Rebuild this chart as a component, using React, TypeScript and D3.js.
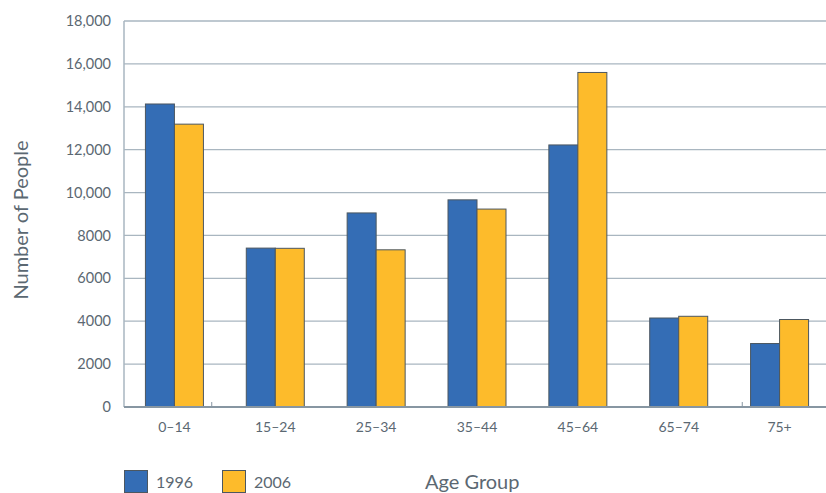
import React from "react";
import * as d3 from "d3";

const ageGroups = ["0–14", "15–24", "25–34", "35–44", "45–64", "65–74", "75+"];
const people1996 = [14130, 7410, 9050, 9660, 12220, 4150, 2960];
const people2006 = [13190, 7400, 7330, 9230, 15600, 4230, 4080];
const seriesNames = ["1996", "2006"];
const yTicks = [0, 2000, 4000, 6000, 8000, 10000, 12000, 14000, 16000, 18000];

const W = 826;
const H = 493;
const M = { left: 124, right: 0, top: 21, bottom: 86 };
const COLORS = ["#346db5", "#fdbb2b"];
const TEXT = "#5b6872";
const FONT = "Lato, 'Open Sans', sans-serif";

export default function App() {
  const x = d3.scaleBand<string>().domain(ageGroups).range([M.left, 830]).padding(0);
  const y = d3.scaleLinear().domain([0, 18000]).range([H - M.bottom, M.top]);
  const barW = 29;
  const fmt = (v: number) => (v >= 10000 ? d3.format(",")(v) : String(v));
  const step = x.step();
  const c0 = (x(ageGroups[0]) as number) + step / 2;
  const c6 = (x(ageGroups[6]) as number) + step / 2;
  const minorTicks = [c0 + 0.37 * step, c6 - 0.37 * step];

  return (
    <svg width={W} height={H} style={{ position: "absolute", left: 0, top: 0, background: "#fff" }}>
      {yTicks.map((t) => (
        <g key={t}>
          {t > 0 && (
            <line x1={M.left} x2={W} y1={y(t)} y2={y(t)} stroke="#a9b6c0" strokeWidth={1.3} />
          )}
          <text x={111} y={y(t)} dy="0.35em" textAnchor="end" fontSize={14.5} fill={TEXT} fontFamily={FONT}>
            {fmt(t)}
          </text>
        </g>
      ))}
      {ageGroups.map((g, i) => {
        const cx = (x(g) as number) + step / 2;
        const vals = [people1996[i], people2006[i]];
        return (
          <g key={g}>
            {vals.map((v, j) => (
              <rect
                key={j}
                x={cx - barW + j * barW}
                y={y(v)}
                width={barW}
                height={y(0) - y(v)}
                fill={COLORS[j]}
                stroke="#4c5760"
                strokeWidth={1}
              />
            ))}
            <text x={cx} y={432} textAnchor="middle" fontSize={14} fill={TEXT} fontFamily={FONT}>
              {g}
            </text>
          </g>
        );
      })}
      <line x1={M.left} x2={M.left} y1={M.top} y2={y(0)} stroke="#a9b6c0" strokeWidth={1.5} />
      <line x1={M.left} x2={W} y1={y(0)} y2={y(0)} stroke="#8796a2" strokeWidth={2} />
      {minorTicks.map((tx, i) => (
        <line key={i} x1={tx} x2={tx} y1={y(0)} y2={y(0) - 5} stroke="#8796a2" strokeWidth={1} />
      ))}
      <text
        transform={`translate(28, ${(y(0) + M.top) / 2 + 6}) rotate(-90)`}
        textAnchor="middle"
        fontSize={20}
        fill={TEXT}
        fontFamily={FONT}
      >
        Number of People
      </text>
      {seriesNames.map((s, j) => (
        <g key={s} transform={`translate(${124 + j * 98}, 470)`}>
          <rect x={0.5} y={0.5} width={23} height={22} fill={COLORS[j]} stroke="#4c5760" strokeWidth={1} />
          <text x={32} y={18} fontSize={16} fill={TEXT} fontFamily={FONT}>
            {s}
          </text>
        </g>
      ))}
      <text x={425} y={489} fontSize={20} fill={TEXT} fontFamily={FONT}>
        Age Group
      </text>
    </svg>
  );
}
